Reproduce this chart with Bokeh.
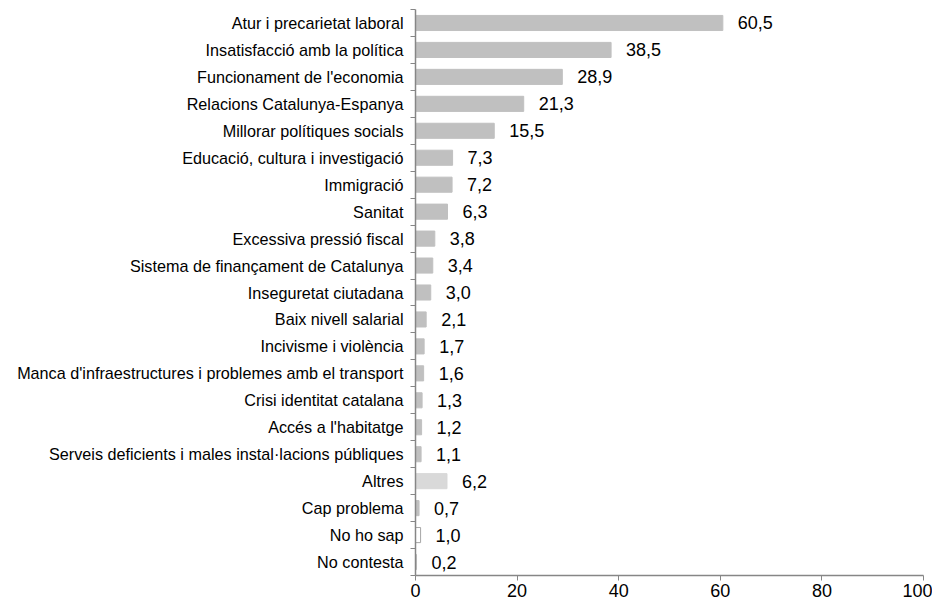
from bokeh.plotting import figure
from bokeh.models import Range1d, FixedTicker, ColumnDataSource, LinearAxis
from bokeh.core.properties import value
from bokeh.embed import file_html
from bokeh.resources import INLINE

categories = [
    "Atur i precarietat laboral",
    "Insatisfacció amb la política",
    "Funcionament de l'economia",
    "Relacions Catalunya-Espanya",
    "Millorar polítiques socials",
    "Educació, cultura i investigació",
    "Immigració",
    "Sanitat",
    "Excessiva pressió fiscal",
    "Sistema de finançament de Catalunya",
    "Inseguretat ciutadana",
    "Baix nivell salarial",
    "Incivisme i violència",
    "Manca d'infraestructures i problemes amb el transport",
    "Crisi identitat catalana",
    "Accés a l'habitatge",
    "Serveis deficients i males instal·lacions públiques",
    "Altres",
    "Cap problema",
    "No ho sap",
    "No contesta",
]
values = [60.5, 38.5, 28.9, 21.3, 15.5, 7.3, 7.2, 6.3, 3.8, 3.4, 3.0, 2.1, 1.7, 1.6, 1.3, 1.2, 1.1, 6.2, 0.7, 1.0, 0.2]
x_ticks = [0, 20, 40, 60, 80, 100]

n = len(categories)
pos = list(range(n))
fills = []
lines = []
for c in categories:
    if c == "Altres":
        fills.append("#d9d9d9"); lines.append("#d9d9d9")
    elif c == "No ho sap":
        fills.append("#ffffff"); lines.append("#a6a6a6")
    else:
        fills.append("#c0c0c0"); lines.append("#c0c0c0")

src = ColumnDataSource(dict(
    y=pos, v=values, fill=fills, line=lines,
    lab=[f"{v:.1f}".replace(".", ",") for v in values],
))

p = figure(width=932, height=600, output_backend="svg", toolbar_location=None,
           x_range=Range1d(0, 100), y_range=Range1d(n - 0.5, -0.5),
           min_border_left=415, min_border_right=9, min_border_top=9, min_border_bottom=25,
           x_axis_type=None, y_axis_type=None)
p.outline_line_color = None
p.xgrid.grid_line_color = None
p.ygrid.grid_line_color = None

p.hbar(y="y", left=0, right="v", height=0.56, fill_color="fill", line_color="line",
       line_width=1, source=src)
p.text(x="v", y="y", text="lab", source=src, x_offset=15, text_align="left",
       text_baseline="middle", text_font=value("Liberation Sans"),
       text_font_size="18px", text_color="#000000")

axis_color = "#868686"
yaxis = LinearAxis(ticker=FixedTicker(ticks=pos, minor_ticks=[i - 0.5 for i in range(n + 1)]))
yaxis.major_label_overrides = {i: c for i, c in enumerate(categories)}
yaxis.major_tick_out = 0
yaxis.major_tick_in = 0
yaxis.minor_tick_out = 5
yaxis.minor_tick_in = 0
yaxis.minor_tick_line_color = axis_color
yaxis.axis_line_color = axis_color
yaxis.axis_line_width = 1.5
yaxis.major_label_standoff = 7
yaxis.major_label_text_font = "Liberation Sans"
yaxis.major_label_text_font_size = "16.2px"
yaxis.major_label_text_color = "#000000"
p.add_layout(yaxis, "left")

xaxis = LinearAxis(ticker=FixedTicker(ticks=x_ticks))
xaxis.major_tick_out = 5
xaxis.major_tick_in = 0
xaxis.minor_tick_line_color = None
xaxis.major_tick_line_color = axis_color
xaxis.axis_line_color = axis_color
xaxis.axis_line_width = 1.5
xaxis.major_label_standoff = 3
xaxis.major_label_text_font = "Liberation Sans"
xaxis.major_label_text_font_size = "18px"
xaxis.major_label_text_color = "#000000"
p.add_layout(xaxis, "below")

open("out.html", "w").write(file_html(p, INLINE))
